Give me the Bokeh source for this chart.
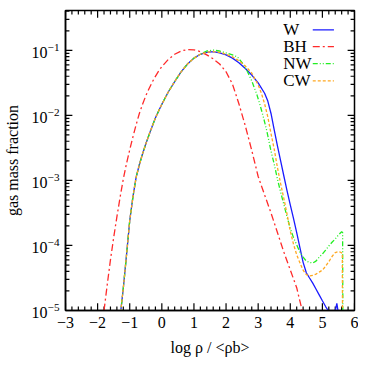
from bokeh.plotting import figure
from bokeh.models import Range1d, SingleIntervalTicker
from bokeh.core.properties import value
from bokeh.embed import file_html
from bokeh.resources import INLINE

# ---------------- data (log10 rho/<rho_b>, gas mass fraction) ----------------
x_w = [-1.30, -1.20, -1.10, -1.00, -0.90, -0.80, -0.70, -0.60, -0.50, -0.40, -0.30, -0.20, -0.10,
       0.00, 0.20, 0.40, 0.60, 0.80, 1.00, 1.20, 1.40, 1.60, 1.80, 2.00, 2.20, 2.40, 2.60, 2.80,
       3.00, 3.20, 3.30, 3.40, 3.50, 3.60, 3.70, 3.80, 3.90, 4.00, 4.10, 4.20, 4.30, 4.40, 4.50,
       4.60, 4.70, 4.80, 4.90, 5.00, 5.10, 5.18, 5.28, 5.45, 5.58]
y_w = [7.9e-6, 2.2e-5, 7.1e-5, 2.4e-4, 5.6e-4, 1.12e-3, 1.74e-3, 2.57e-3, 3.63e-3, 5.0e-3, 6.8e-3,
       9.1e-3, 1.17e-2, 1.48e-2, 2.29e-2, 3.31e-2, 4.68e-2, 6.17e-2, 7.59e-2, 8.71e-2, 9.33e-2,
       9.55e-2, 9.12e-2, 8.51e-2, 7.59e-2, 6.46e-2, 5.25e-2, 4.17e-2, 3.16e-2, 2.19e-2, 1.66e-2,
       1.07e-2, 6.0e-3, 3.4e-3, 2.0e-3, 1.17e-3, 6.9e-4, 4.2e-4, 2.6e-4, 1.58e-4, 9.3e-5, 5.5e-5,
       3.8e-5, 3.16e-5, 2.63e-5, 2.14e-5, 1.74e-5, 1.41e-5, 1.15e-5, 1.0e-5, 5.0e-6, 1.29e-5, 5.0e-6]

x_bh = [-1.80, -1.70, -1.60, -1.50, -1.40, -1.30, -1.20, -1.10, -1.00, -0.90, -0.80, -0.70, -0.60,
        -0.50, -0.40, -0.30, -0.20, -0.10, 0.00, 0.20, 0.40, 0.60, 0.80, 1.00, 1.20, 1.40, 1.60,
        1.80, 2.00, 2.20, 2.40, 2.60, 2.80, 3.00, 3.20, 3.40, 3.60, 3.80, 4.00, 4.20, 4.37]
y_bh = [1.0e-5, 2.5e-5, 6.0e-5, 1.32e-4, 2.75e-4, 5.5e-4, 1.05e-3, 1.82e-3, 2.95e-3, 4.68e-3,
        7.2e-3, 1.07e-2, 1.48e-2, 2.0e-2, 2.57e-2, 3.24e-2, 3.98e-2, 4.79e-2, 5.62e-2, 7.24e-2,
        8.71e-2, 9.77e-2, 1.03e-1, 1.02e-1, 9.55e-2, 8.51e-2, 7.41e-2, 6.17e-2, 4.68e-2, 3.02e-2,
        1.51e-2, 6.9e-3, 2.9e-3, 1.15e-3, 6.0e-4, 3.16e-4, 1.58e-4, 7.9e-5, 4.2e-5, 2.24e-5, 1.0e-5]

x_nw = [-1.30, -1.20, -1.10, -1.00, -0.90, -0.80, -0.70, -0.60, -0.50, -0.40, -0.30, -0.20, -0.10,
        0.00, 0.20, 0.40, 0.60, 0.80, 1.00, 1.20, 1.40, 1.60, 1.80, 2.00, 2.20, 2.35, 2.50, 2.65,
        2.80, 2.96, 3.07, 3.17, 3.27, 3.40, 3.50, 3.60, 3.70, 3.80, 3.90, 4.00, 4.10, 4.20, 4.30,
        4.40, 4.50, 4.60, 4.70, 4.80, 4.90, 5.00, 5.10, 5.20, 5.30, 5.40, 5.50, 5.60, 5.63, 5.64]
y_nw = [7.9e-6, 2.2e-5, 7.1e-5, 2.4e-4, 5.6e-4, 1.12e-3, 1.74e-3, 2.57e-3, 3.63e-3, 5.0e-3, 6.8e-3,
        9.1e-3, 1.17e-2, 1.48e-2, 2.29e-2, 3.31e-2, 4.68e-2, 6.17e-2, 7.59e-2, 8.71e-2, 9.77e-2,
        1.01e-1, 9.77e-2, 9.12e-2, 8.51e-2, 7.94e-2, 6.46e-2, 4.9e-2, 3.39e-2, 2.09e-2, 1.38e-2,
        9.1e-3, 5.75e-3, 2.82e-3, 1.78e-3, 1.05e-3, 6.6e-4, 4.27e-4, 2.75e-4, 1.82e-4, 1.32e-4,
        1.02e-4, 7.9e-5, 6.6e-5, 5.75e-5, 5.5e-5, 5.37e-5, 5.75e-5, 6.6e-5, 7.4e-5, 8.5e-5, 9.8e-5,
        1.12e-4, 1.26e-4, 1.45e-4, 1.62e-4, 1.58e-4, 3.0e-6]

x_cw = [-1.30, -1.20, -1.10, -1.00, -0.90, -0.80, -0.70, -0.60, -0.50, -0.40, -0.30, -0.20, -0.10,
        0.00, 0.20, 0.40, 0.60, 0.80, 1.00, 1.20, 1.40, 1.60, 1.80, 2.00, 2.20, 2.40, 2.60, 2.80,
        3.00, 3.10, 3.20, 3.30, 3.40, 3.50, 3.60, 3.70, 3.80, 3.90, 4.00, 4.10, 4.20, 4.30, 4.40,
        4.50, 4.60, 4.70, 4.80, 4.90, 5.00, 5.10, 5.20, 5.30, 5.40, 5.47, 5.55, 5.62, 5.63]
y_cw = [7.9e-6, 2.2e-5, 7.1e-5, 2.4e-4, 5.6e-4, 1.12e-3, 1.74e-3, 2.57e-3, 3.63e-3, 5.0e-3, 6.8e-3,
        9.1e-3, 1.17e-2, 1.48e-2, 2.29e-2, 3.31e-2, 4.68e-2, 6.17e-2, 7.59e-2, 8.71e-2, 9.33e-2,
        9.55e-2, 9.33e-2, 8.71e-2, 7.94e-2, 6.92e-2, 5.75e-2, 4.47e-2, 2.95e-2, 2.19e-2, 1.51e-2,
        9.5e-3, 5.25e-3, 3.02e-3, 1.58e-3, 8.9e-4, 5.25e-4, 3.02e-4, 1.66e-4, 1.05e-4, 7.2e-5,
        5.4e-5, 4.17e-5, 3.55e-5, 3.39e-5, 3.47e-5, 3.63e-5, 3.89e-5, 4.17e-5, 4.79e-5, 5.62e-5,
        6.76e-5, 7.76e-5, 7.94e-5, 7.94e-5, 7.59e-5, 3.0e-6]

labels = ["W", "BH", "NW", "CW"]
colors = ["#1a1aff", "#ff2a2a", "#22ee22", "#ffa820"]
dashes = ["solid", "7 3 2 3", "5 2 1 2 1 2", "3 2"]

x_ticks = [-3, -2, -1, 0, 1, 2, 3, 4, 5, 6]

FONT = "Liberation Serif"
X0, X1 = -3, 6
Y0, Y1 = 1e-5, 0.41

p = figure(width=358, height=358, y_axis_type="log",
           x_range=Range1d(X0, X1), y_range=Range1d(Y0, Y1),
           output_backend="svg", toolbar_location=None,
           min_border_left=61, min_border_right=4, min_border_top=10, min_border_bottom=10)
p.background_fill_color = "white"
p.border_fill_color = "white"
p.grid.visible = False
p.outline_line_color = "black"
p.outline_line_width = 1.5

p.xaxis.ticker = SingleIntervalTicker(interval=1, num_minor_ticks=5)

for ax in p.axis:
    ax.axis_line_color = "black"
    ax.axis_line_width = 1.5
    ax.major_tick_in = 0
    ax.major_tick_out = 0
    ax.minor_tick_in = 0
    ax.minor_tick_out = 0
    ax.major_label_text_font = FONT
    ax.major_label_text_font_size = "16px"
    ax.major_label_text_color = "black"
    ax.major_label_standoff = 6
    ax.axis_label_text_font = FONT
    ax.axis_label_text_font_size = "16px"
    ax.axis_label_text_font_style = "normal"
    ax.axis_label_text_color = "black"

p.yaxis.axis_label = "gas mass fraction"
p.yaxis.axis_label_standoff = 8
p.xaxis.axis_label = "log ρ / <ρb>"
p.xaxis.axis_label_standoff = 8

# inward tick marks on all four sides, drawn as short segments
# (frame is ~294 px wide for 9 units and ~293 px tall for 4.61 decades)
dx_major, dx_minor = 0.214, 0.122          # 7 px and 4 px along x
fy_major, fy_minor = 1.289, 1.156          # 7 px and 4 px along log y
xmaj = [float(t) for t in x_ticks]
xmin = [t + k * 0.2 for t in x_ticks[:-1] for k in range(1, 5)]
ymaj = [10.0 ** e for e in range(-5, 0)]
ymin = [m * 10.0 ** e for e in range(-5, 0) for m in range(2, 10) if m * 10.0 ** e < Y1]
for xs, f in ((xmaj, fy_major), (xmin, fy_minor)):
    n = len(xs)
    p.segment(x0=xs, y0=[Y0] * n, x1=xs, y1=[Y0 * f] * n, line_color="black", line_width=1.2)
    p.segment(x0=xs, y0=[Y1] * n, x1=xs, y1=[Y1 / f] * n, line_color="black", line_width=1.2)
for ys, d in ((ymaj, dx_major), (ymin, dx_minor)):
    n = len(ys)
    p.segment(x0=[X0] * n, y0=ys, x1=[X0 + d] * n, y1=ys, line_color="black", line_width=1.2)
    p.segment(x0=[X1] * n, y0=ys, x1=[X1 - d] * n, y1=ys, line_color="black", line_width=1.2)

xs_all = [x_w, x_bh, x_nw, x_cw]
ys_all = [y_w, y_bh, y_nw, y_cw]
for xs, ys, c, d in zip(xs_all, ys_all, colors, dashes):
    p.line(xs, ys, line_color=c, line_width=1.3, line_dash=d)

# legend (text left, sample line right), placed in data units in the upper right
leg_y = [0.206, 0.114, 0.0624, 0.034]
leg_text_x = 3.78
leg_line_x = [4.70, 5.36]
p.text(x=[leg_text_x] * 4, y=leg_y, text=labels, text_font=value(FONT),
       text_font_size="17px", text_baseline="middle", text_align="left", text_color="black")
for yy, c, d in zip(leg_y, colors, dashes):
    p.line(leg_line_x, [yy, yy], line_color=c, line_width=1.3, line_dash=d)

open("out.html", "w").write(file_html(p, INLINE))
